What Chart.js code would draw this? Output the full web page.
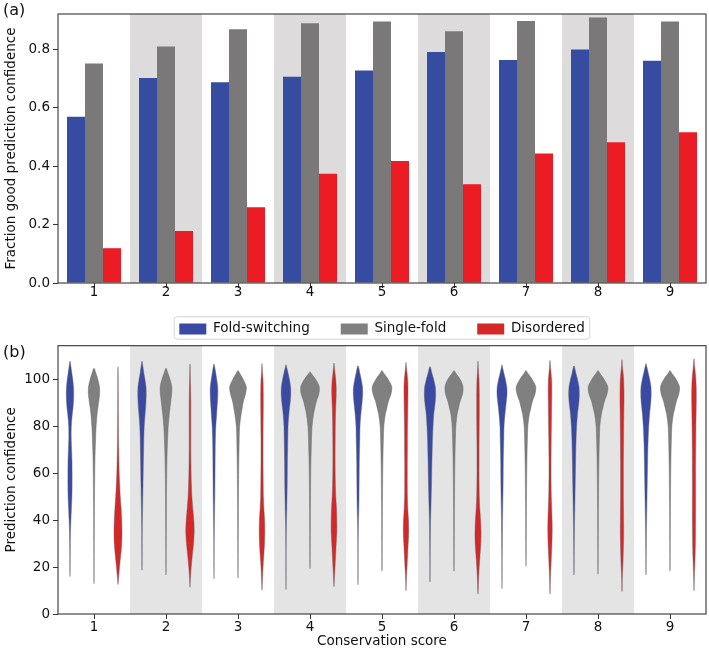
<!DOCTYPE html>
<html><head><meta charset="utf-8">
<script src="https://cdn.jsdelivr.net/npm/chart.js@4.4.1/dist/chart.umd.min.js"></script>
<style>
html,body{margin:0;padding:0;background:#fff;}
#wrap{position:relative;width:709px;height:650px;overflow:hidden;background:#fff;}
#ca{position:absolute;left:0;top:0;}
#cb{position:absolute;left:0;top:280px;}
</style></head><body>
<div id="wrap">
<canvas id="ca" width="709" height="300"></canvas>
<canvas id="cb" width="709" height="370"></canvas>
</div>
<script>
// ---------------- DATA ----------------
const categories = ['1','2','3','4','5','6','7','8','9'];
const categoryValues = [1,2,3,4,5,6,7,8,9];
const seriesNames = ['Fold-switching','Single-fold','Disordered'];

// panel (a): fraction with good prediction confidence
const fracFoldSwitching = [0.569,0.701,0.687,0.705,0.727,0.790,0.763,0.799,0.760];
const fracSingleFold    = [0.751,0.809,0.868,0.888,0.894,0.861,0.896,0.908,0.894];
const fracDisordered    = [0.119,0.178,0.259,0.374,0.417,0.338,0.443,0.481,0.516];
const yTicksA = [0,0.2,0.4,0.6,0.8];

// panel (b): prediction-confidence distributions (relative density at each level)
const yTicksB = [0,20,40,60,80,100];
const confLevels = [10,15,20,25,30,35,40,45,50,55,60,65,70,75,80,85,88,91,94,97,100,103,106,109];

const foldSwitchingMin = [16,18.7,15,10.4,12.5,13.7,10.8,16.7,16.7];
const foldSwitchingMax = [108,108,106.8,106.5,106,105.7,106.5,106,107];
const foldSwitchingDensity = [
 [0,0,0.15,0.2,0.3,0.5,0.9,1.4,1.9,2.1,2.1,2.0,1.6,1.2,1.3,2.2,3.0,3.5,3.7,3.5,2.8,1.8,0.8,0],
 [0,0,0.1,0.15,0.2,0.25,0.4,0.6,0.8,1.0,1.2,1.4,1.6,1.8,2.2,3.0,3.6,4.0,4.2,4.0,3.0,1.8,0.8,0],
 [0,0,0.1,0.15,0.2,0.3,0.45,0.6,0.8,0.9,1.0,1.1,1.2,1.4,1.8,2.6,3.0,3.5,3.8,3.7,2.8,1.7,0.5,0],
 [0,0.1,0.12,0.15,0.2,0.3,0.5,0.8,1.0,1.2,1.3,1.4,1.6,1.8,2.0,2.8,3.5,4.3,4.8,4.6,3.5,2.0,0.3,0],
 [0,0.1,0.12,0.15,0.2,0.3,0.5,0.8,1.0,1.1,1.2,1.3,1.5,1.8,2.0,2.8,3.5,4.2,4.7,4.5,3.3,1.8,0,0],
 [0,0.1,0.15,0.2,0.3,0.4,0.6,0.9,1.2,1.5,1.7,1.9,2.2,2.5,3.0,3.7,4.5,5.3,5.7,5.3,3.8,1.8,0,0],
 [0,0.1,0.15,0.2,0.3,0.4,0.5,0.7,0.9,1.1,1.2,1.3,1.5,1.8,2.0,2.9,3.6,4.4,5.0,4.8,3.5,1.8,0.2,0],
 [0,0,0.15,0.2,0.3,0.4,0.6,0.8,1.0,1.2,1.4,1.6,1.8,2.1,2.6,3.4,4.2,5.0,5.3,5.0,3.6,1.8,0,0],
 [0,0,0.15,0.2,0.3,0.4,0.6,0.8,1.0,1.2,1.4,1.6,1.8,2.2,2.7,3.5,4.2,4.9,5.2,5.0,3.8,2.2,0.6,0]
];

const singleFoldMin = [13,16.7,15.4,19.4,18.3,18.3,20.4,17,18.3];
const singleFoldMax = [105,105,104,103.5,104,104,104,104,104];
const singleFoldDensity = [
 [0,0.12,0.15,0.2,0.25,0.3,0.35,0.4,0.5,0.6,0.75,0.9,1.2,1.6,2.1,3.0,3.8,4.8,5.6,5.5,4.0,1.8,0,0],
 [0,0,0.15,0.2,0.25,0.3,0.35,0.4,0.45,0.55,0.7,0.9,1.2,1.6,2.2,3.2,4.0,4.8,5.6,5.8,4.2,1.8,0,0],
 [0,0,0.15,0.2,0.25,0.3,0.35,0.4,0.45,0.55,0.65,0.8,1.0,1.2,1.6,3.0,4.2,5.5,7.5,8.3,5.5,1.5,0,0],
 [0,0,0.1,0.2,0.25,0.3,0.35,0.4,0.5,0.6,0.7,0.9,1.2,1.5,2.0,3.4,4.8,6.5,8.8,9.3,6.0,0.8,0,0],
 [0,0,0.15,0.2,0.25,0.3,0.35,0.4,0.5,0.6,0.7,0.9,1.1,1.4,1.8,3.2,4.8,6.5,9.0,9.8,6.5,1.5,0,0],
 [0,0,0.15,0.2,0.25,0.3,0.35,0.4,0.5,0.6,0.7,0.9,1.1,1.4,1.8,3.0,4.5,6.2,8.5,9.0,6.5,1.5,0,0],
 [0,0,0,0.2,0.25,0.3,0.35,0.4,0.5,0.6,0.7,0.9,1.1,1.4,1.8,3.2,4.8,6.5,9.0,9.8,6.5,1.5,0,0],
 [0,0,0.15,0.2,0.25,0.3,0.35,0.4,0.5,0.6,0.7,0.9,1.1,1.4,1.8,3.2,4.8,6.5,9.0,9.8,6.5,1.5,0,0],
 [0,0,0.15,0.2,0.25,0.3,0.35,0.4,0.5,0.6,0.7,0.9,1.1,1.4,1.8,3.2,4.8,6.5,8.8,9.5,6.5,1.5,0,0]
];

const disorderedMin = [12.6,11.4,10.1,11.6,9.9,8.5,8.5,9.6,9.9];
const disorderedMax = [105.6,106.8,107,107.2,107.5,108,108.3,108.6,109];
const disorderedDensity = [
 [0,0.5,1.5,2.7,3.7,4.0,3.7,3.1,2.3,1.7,1.2,0.9,0.7,0.5,0.4,0.35,0.3,0.3,0.25,0.2,0.2,0.15,0,0],
 [0,0.4,1.2,2.3,3.5,4.2,3.8,2.8,1.9,1.4,1.1,0.9,0.8,0.8,0.8,0.8,0.8,0.8,0.7,0.6,0.4,0.25,0.1,0],
 [0,0.5,1.0,1.8,2.5,2.8,2.6,1.9,1.4,1.2,1.1,1.0,1.0,1.0,1.1,1.2,1.3,1.3,1.3,1.2,1.0,0.5,0.15,0],
 [0,0.4,1.0,1.6,2.2,2.8,2.8,2.5,1.8,1.4,1.2,1.1,1.1,1.2,1.3,1.5,1.7,2.0,2.2,2.2,1.8,1.0,0.3,0],
 [0.05,0.4,1.0,1.6,2.2,2.7,2.5,1.8,1.4,1.3,1.3,1.3,1.4,1.4,1.5,1.7,1.8,1.9,2.0,2.0,1.7,1.0,0.3,0],
 [0.2,0.6,1.2,2.0,2.8,3.0,2.6,1.8,1.3,1.1,1.0,1.0,1.0,1.1,1.2,1.3,1.3,1.3,1.3,1.2,1.0,0.6,0.2,0],
 [0.15,0.4,0.9,1.4,1.9,2.2,2.1,1.7,1.3,1.1,1.0,1.0,1.1,1.2,1.4,1.5,1.6,1.7,1.8,1.8,1.6,1.0,0.4,0],
 [0.1,0.3,0.8,1.2,1.5,1.7,1.6,1.5,1.4,1.4,1.4,1.4,1.5,1.6,1.7,1.8,1.9,2.0,2.0,1.9,1.7,1.1,0.4,0],
 [0.05,0.3,0.7,1.1,1.4,1.5,1.6,1.6,1.6,1.6,1.6,1.6,1.7,1.8,1.9,2.1,2.2,2.3,2.3,2.2,1.9,1.3,0.6,0]
];

// ---------------- STYLE ----------------
const barColors = ['#354ca1','#7a7878','#ec1c24'];
const violinColors = ['#3a4aa3','#808080','#d62728'];
const FONT = 'DejaVu Sans';
const AXIS_COLOR = '#333';
Chart.defaults.font.family = FONT;
Chart.defaults.font.size = 13.5;
Chart.defaults.color = '#111';

const frame = {
  id: 'frame',
  afterDraw(chart) {
    const {ctx, chartArea: a} = chart;
    ctx.save();
    ctx.strokeStyle = AXIS_COLOR; ctx.lineWidth = 1.1;
    ctx.strokeRect(a.left, a.top, a.right - a.left, a.bottom - a.top);
    ctx.restore();
  }
};
function panelLabel(text, x, y) {
  return {
    id: 'label' + text,
    afterDraw(chart) {
      const ctx = chart.ctx;
      ctx.save();
      ctx.font = '16px ' + FONT; ctx.fillStyle = '#111';
      ctx.textBaseline = 'middle'; ctx.textAlign = 'left';
      ctx.fillText(text, x, y);
      ctx.restore();
    }
  };
}

// ---------------- PANEL (a) ----------------
const bandsA = {
  id: 'bandsA',
  beforeDatasetsDraw(chart) {
    const {ctx, chartArea: a, scales: {x}} = chart;
    const w = x.getPixelForValue(1) - x.getPixelForValue(0);
    ctx.save(); ctx.fillStyle = '#dddbdb';
    [1,3,5,7].forEach(i => {
      const c = x.getPixelForValue(i);
      ctx.fillRect(c - w/2, a.top, w, a.bottom - a.top);
    });
    ctx.restore();
  }
};

new Chart(document.getElementById('ca'), {
  type: 'bar',
  data: {
    labels: categories,
    datasets: [fracFoldSwitching, fracSingleFold, fracDisordered].map((d, i) => ({
      label: seriesNames[i], data: d, backgroundColor: barColors[i], borderWidth: 0,
      categoryPercentage: 0.75, barPercentage: 1.0
    }))
  },
  options: {
    responsive: false, animation: false, devicePixelRatio: 1,
    layout: {padding: {left: 0, top: 14, right: 3, bottom: 0}},
    plugins: {tooltip: {enabled: false}, legend: {display: false}},
    scales: {
      x: {
        grid: {display: true, offset: false, drawOnChartArea: false, drawTicks: true, tickLength: 5, tickColor: AXIS_COLOR},
        border: {display: false},
        ticks: {padding: -3.5, color: '#111'},
        afterFit: (s) => { s.height = 17; }
      },
      y: {
        min: 0, max: 0.92,
        grid: {drawOnChartArea: false, drawTicks: true, tickLength: 5, tickColor: AXIS_COLOR},
        border: {display: false},
        afterBuildTicks: (s) => { s.ticks = yTicksA.map(v => ({value: v})); },
        ticks: {padding: 3, color: '#111', callback: (v) => Number(v).toFixed(1)},
        title: {display: true, text: 'Fraction good prediction confidence', font: {size: 13.5}, color: '#111', padding: {top: 3, bottom: 0}},
        afterFit: (s) => { s.width = 58; }
      }
    }
  },
  plugins: [bandsA, frame, panelLabel('(a)', 3, 11)]
});

// ---------------- PANEL (b) ----------------
const DODGE = [-1/3, 0, 1/3];
const DENS_TO_X = 1/72;
function violinOutline(center, dens, lo, hi) {
  const pts = [{x: center, y: lo}];
  confLevels.forEach((v, i) => { if (v > lo && v < hi) pts.push({x: center + dens[i] * DENS_TO_X, y: v}); });
  pts.push({x: center, y: hi});
  for (let i = confLevels.length - 1; i >= 0; i--) {
    const v = confLevels[i];
    if (v > lo && v < hi) pts.push({x: center - dens[i] * DENS_TO_X, y: v});
  }
  pts.push({x: center, y: lo});
  return pts;
}
const seriesMin = [foldSwitchingMin, singleFoldMin, disorderedMin];
const seriesMax = [foldSwitchingMax, singleFoldMax, disorderedMax];
const seriesDensity = [foldSwitchingDensity, singleFoldDensity, disorderedDensity];
const datasetsB = [];
// three invisible entries for the legend
seriesNames.forEach((n, s) => datasetsB.push({label: n, data: [], backgroundColor: violinColors[s], borderColor: violinColors[s], borderWidth: 0, showLine: false}));
categoryValues.forEach((c, ci) => {
  for (let s = 0; s < 3; s++) {
    datasetsB.push({
      label: seriesNames[s] + ' ' + categories[ci],
      data: violinOutline(c + DODGE[s], seriesDensity[s][ci], seriesMin[s][ci], seriesMax[s][ci]),
      showLine: true, fill: 'shape', backgroundColor: violinColors[s],
      borderColor: 'rgba(95,95,95,0.55)', borderWidth: 0.8, pointRadius: 0, tension: 0.3
    });
  }
});
const bandsB = {
  id: 'bandsB',
  beforeDatasetsDraw(chart) {
    const {ctx, chartArea: a, scales: {x}} = chart;
    ctx.save(); ctx.fillStyle = '#e5e4e4';
    [2,4,6,8].forEach(c => {
      const l = x.getPixelForValue(c - 0.5), r = x.getPixelForValue(c + 0.5);
      ctx.fillRect(l, a.top, r - l, a.bottom - a.top);
    });
    ctx.restore();
  }
};
const legendBorder = {
  id: 'legendBorder',
  afterDraw(chart) {
    const hb = chart.legend.legendHitBoxes;
    if (!hb || !hb.length) return;
    const f = hb[0], l = hb[hb.length - 1];
    const x0 = f.left - 5, x1 = l.left + l.width + 5;
    const y0 = f.top - 5.5, y1 = f.top + f.height + 3.5;
    const ctx = chart.ctx, r = 3;
    ctx.save();
    ctx.strokeStyle = '#d4d4d4'; ctx.lineWidth = 1;
    ctx.beginPath();
    ctx.moveTo(x0 + r, y0); ctx.lineTo(x1 - r, y0); ctx.quadraticCurveTo(x1, y0, x1, y0 + r);
    ctx.lineTo(x1, y1 - r); ctx.quadraticCurveTo(x1, y1, x1 - r, y1);
    ctx.lineTo(x0 + r, y1); ctx.quadraticCurveTo(x0, y1, x0, y1 - r);
    ctx.lineTo(x0, y0 + r); ctx.quadraticCurveTo(x0, y0, x0 + r, y0);
    ctx.stroke();
    ctx.restore();
  }
};
new Chart(document.getElementById('cb'), {
  type: 'line',
  data: {datasets: datasetsB},
  options: {
    responsive: false, animation: false, devicePixelRatio: 1,
    layout: {padding: {left: 0, top: 11.2, right: 3, bottom: 0}},
    plugins: {
      tooltip: {enabled: false},
      legend: {
        position: 'top', fullSize: false,
        labels: {
          boxWidth: 27, boxHeight: 11, padding: 31, color: '#111',
          font: {size: 13.5, family: FONT},
          filter: (item) => item.datasetIndex < 3,
          generateLabels: (chart) => Chart.defaults.plugins.legend.labels.generateLabels(chart)
            .map((l) => Object.assign(l, {lineWidth: 0}))
        }
      }
    },
    elements: {point: {radius: 0}},
    scales: {
      x: {
        type: 'linear', min: 0.5, max: 9.5,
        grid: {drawOnChartArea: false, drawTicks: true, tickLength: 5, tickColor: AXIS_COLOR},
        border: {display: false},
        afterBuildTicks: (s) => { s.ticks = categoryValues.map(v => ({value: v})); },
        ticks: {padding: 0, color: '#111', callback: (v) => String(v)},
        title: {display: true, text: 'Conservation score', font: {size: 13.5}, color: '#111', padding: {top: 0, bottom: 0}},
        afterFit: (s) => { s.height = 36; }
      },
      y: {
        type: 'linear', min: 0, max: 114.6,
        grid: {drawOnChartArea: false, drawTicks: true, tickLength: 5, tickColor: AXIS_COLOR},
        border: {display: false},
        afterBuildTicks: (s) => { s.ticks = yTicksB.map(v => ({value: v})); },
        ticks: {padding: 3, color: '#111', callback: (v) => String(v)},
        title: {display: true, text: 'Prediction confidence', font: {size: 13.5}, color: '#111', padding: {top: 3, bottom: 0}},
        afterFit: (s) => { s.width = 58; }
      }
    }
  },
  plugins: [bandsB, frame, legendBorder, panelLabel('(b)', 3, 73)]
});
</script>
</body></html>
